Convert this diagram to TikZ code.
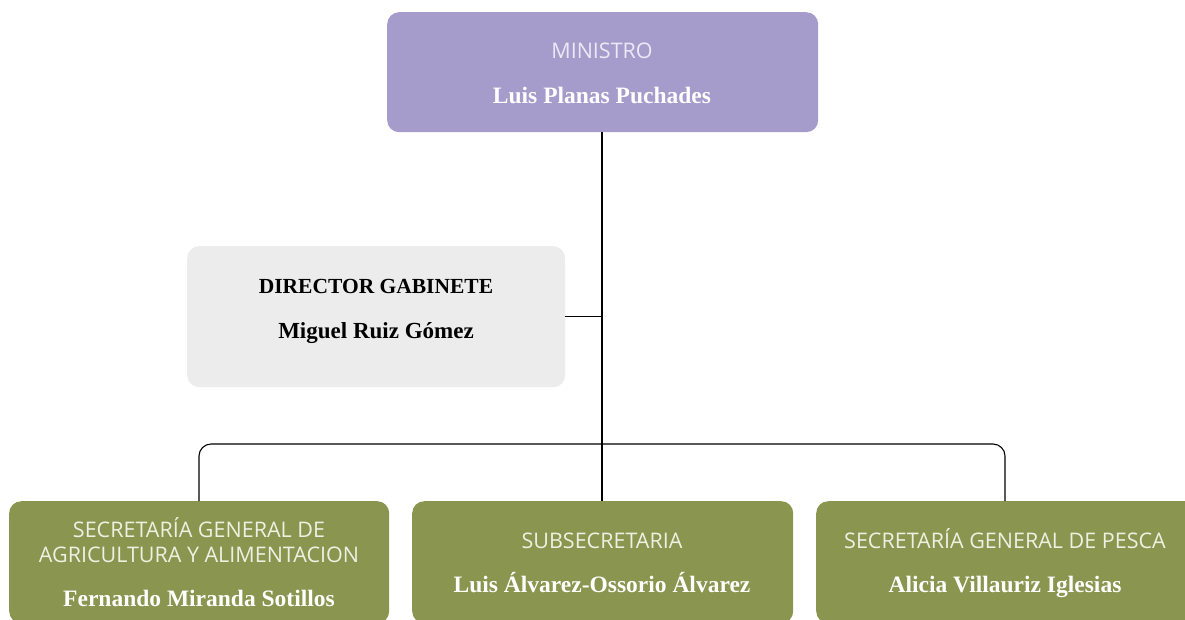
\documentclass[tikz,border=0pt]{standalone}
\usepackage{fontspec}
\setmainfont{Liberation Serif}
\newfontfamily\titlefont{Open Sans}
\begin{document}
\begin{tikzpicture}[x=1pt,y=1pt,
  box/.style={rounded corners=12pt, draw=none, inner sep=0pt, anchor=north west},
  ttl/.style={font=\titlefont\fontsize{21.5}{26}\selectfont, text=#1, inner sep=0pt, anchor=base},
  nm/.style={font=\bfseries\fontsize{23.5}{28}\selectfont, text=#1, inner sep=0pt, anchor=base},
  conn/.style={draw=black, line width=1.1pt}]
\definecolor{purp}{HTML}{A59CCB}
\definecolor{grn}{HTML}{8A954F}
\definecolor{gry}{HTML}{ECECEC}
\definecolor{lav}{HTML}{ECE8F5}
\definecolor{lgrn}{HTML}{EEF0E2}
\useasboundingbox (0,0) rectangle (1185,-619);
% boxes
\node[box, fill=purp, minimum width=431pt, minimum height=120pt] (min) at (387,-12) {};
\node[box, fill=gry, minimum width=378pt, minimum height=141pt] (dir) at (187,-246) {};
\node[box, fill=grn, minimum width=380pt, minimum height=122pt] (sga) at (9,-501) {};
\node[box, fill=grn, minimum width=381pt, minimum height=122pt] (sub) at (412,-501) {};
\node[box, fill=grn, minimum width=384pt, minimum height=122pt] (sgp) at (816,-501) {};
% texts
\node[ttl=lav] (minT) at (602,-58) {MINISTRO};
\node[nm=white] (minN) at (602,-103) {Luis Planas Puchades};
\node[nm=black, font=\bfseries\fontsize{21.5}{26}\selectfont] (dirT) at (376,-293) {DIRECTOR GABINETE};
\node[nm=black, font=\bfseries\fontsize{23}{28}\selectfont] (dirN) at (376,-338) {Miguel Ruiz Gómez};
\node[ttl=lgrn] (sgaT1) at (199,-537) {SECRETARÍA GENERAL DE};
\node[ttl=lgrn] (sgaT2) at (199,-562) {AGRICULTURA Y ALIMENTACION};
\node[nm=white] (sgaN) at (199,-606) {Fernando Miranda Sotillos};
\node[ttl=lgrn] (subT) at (602,-548) {SUBSECRETARIA};
\node[nm=white] (subN) at (602,-592) {Luis Álvarez-Ossorio Álvarez};
\node[ttl=lgrn] (sgpT) at (1005,-548) {SECRETARÍA GENERAL DE PESCA};
\node[nm=white] (sgpN) at (1005,-592) {Alicia Villauriz Iglesias};
% connectors
\coordinate (bus) at (602,-444);
\coordinate (sgaTop) at (199,-501);
\coordinate (sgpTop) at (1005,-501);
\coordinate (minBot) at (602,-132);
\coordinate (subTop) at (602,-501);
\draw[conn] (minBot) -- (subTop);
\draw[conn] (dir.east) -- (dir.east -| minBot);
\draw[conn, rounded corners=12pt] (sgaTop) |- (bus) -| (sgpTop);
\end{tikzpicture}
\end{document}
